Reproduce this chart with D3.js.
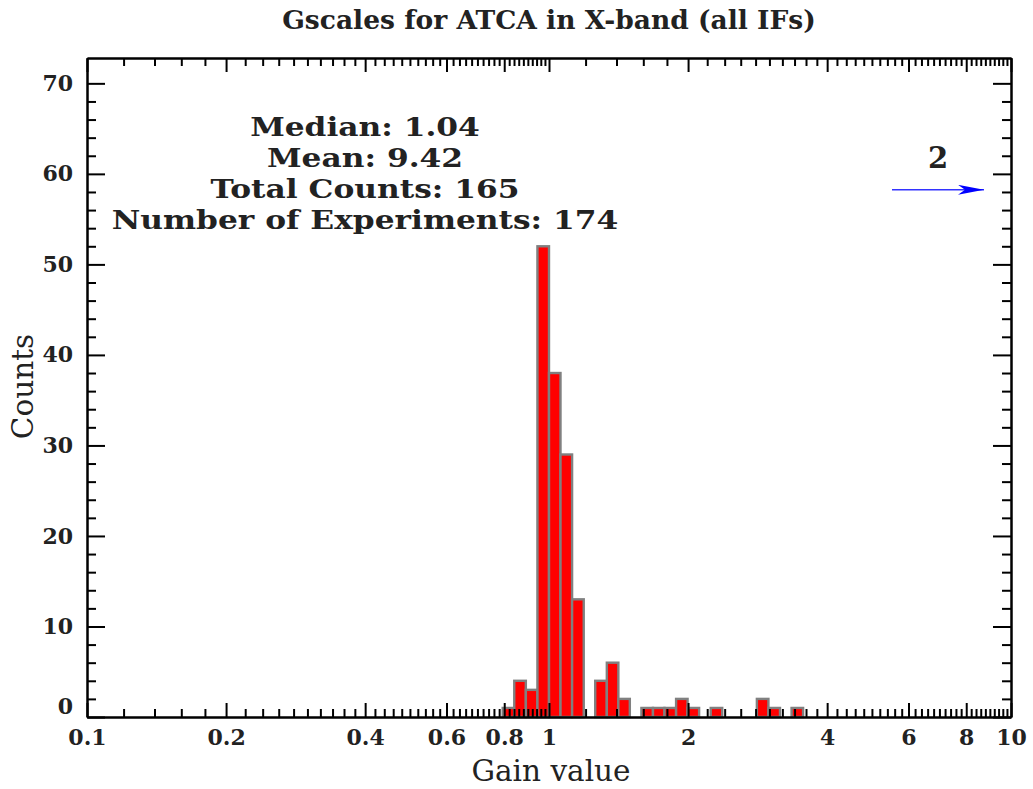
<!DOCTYPE html>
<html>
<head>
<meta charset="utf-8">
<script src="https://cdn.jsdelivr.net/npm/d3@7"></script>
<style>
  body { margin: 0; background: #ffffff; }
  svg { display: block; }
  text { font-family: "DejaVu Serif", "Liberation Serif", serif; fill: #222; }
</style>
</head>
<body>
<svg id="chart" width="1033" height="789"></svg>
<script>
// Histogram bins: edges in gain value (log-spaced) and counts per bin
const binEdges = [0.794, 0.841, 0.891, 0.944, 1.000, 1.059, 1.122, 1.189, 1.259,
                  1.334, 1.413, 1.496, 1.585, 1.679, 1.778, 1.884, 1.995, 2.113,
                  2.239, 2.371, 2.512, 2.661, 2.818, 2.985, 3.162, 3.350, 3.548];
const binCounts = [1, 4, 3, 52, 38, 29, 13, 0, 4, 6, 2, 0, 1, 1, 1, 2, 1, 0,
                   1, 0, 0, 0, 2, 1, 0, 1];
// values beyond the upper end of the gain axis
const overflowCount = 2;

const xMajorTicks = [0.1, 0.2, 0.4, 0.6, 0.8, 1, 2, 4, 6, 8, 10];
const xTickLabels = ["0.1", "0.2", "0.4", "0.6", "0.8", "1", "2", "4", "6", "8", "10"];
const yMajorTicks = [0, 10, 20, 30, 40, 50, 60, 70];
const yTickLabels = ["0", "10", "20", "30", "40", "50", "60", "70"];
const yMax = 72.8;

const titleText = "Gscales for ATCA in X-band (all IFs)";
const xTitle = "Gain value";
const yTitle = "Counts";
const statLines = ["Median: 1.04", "Mean: 9.42", "Total Counts: 165", "Number of Experiments: 174"];

// ---- layout ----
const frame = { left: 87, right: 1011, top: 58, bottom: 717 };
const svg = d3.select("#chart");

const x = d3.scaleLog().domain([0.1, 10]).range([frame.left, frame.right]);
const y = d3.scaleLinear().domain([0, yMax]).range([frame.bottom, frame.top]);

// minor ticks on the log axis: steps of 0.02 per decade unit (0.2 in 1..10)
const xMinorTicks = [];
[0.1, 1].forEach(dec => {
  for (let i = 1; i < 45; i++) {
    const v = +(dec * (1 + 0.2 * i)).toFixed(4);
    if (!xMajorTicks.some(t => Math.abs(t - v) < 1e-6)) xMinorTicks.push(v);
  }
});
const yMinorTicks = d3.range(2, 72, 2).filter(v => v % 10 !== 0);

// ---- bars ----
const bins = binCounts.map((c, i) => ({ x0: binEdges[i], x1: binEdges[i + 1], count: c }))
  .filter(b => b.count > 0);

svg.append("g").attr("class", "bars")
  .selectAll("rect").data(bins).join("rect")
  .attr("x", d => x(d.x0))
  .attr("width", d => x(d.x1) - x(d.x0))
  .attr("y", d => y(d.count))
  .attr("height", d => y(0) - y(d.count))
  .attr("fill", "#ff0000")
  .attr("stroke", "#808080")
  .attr("stroke-width", 2.4);

// ---- axes (ticks pointing inward on all four sides) ----
function styleAxis(g) {
  g.selectAll("path.domain").attr("stroke", "#000").attr("stroke-width", 2);
  g.selectAll(".tick line").attr("stroke", "#000").attr("stroke-width", 2);
  g.selectAll(".tick text")
    .attr("fill", "#222")
    .style("font-family", '"DejaVu Serif", serif')
    .style("font-weight", "bold")
    .style("font-size", "22px");
}

const xMajLen = 14, xMinLen = 8, yMajLen = 18, yMinLen = 9;

svg.append("g").attr("transform", `translate(0,${frame.bottom})`)
  .call(d3.axisBottom(x).tickValues(xMinorTicks).tickSize(-xMinLen).tickSizeOuter(0).tickFormat(""))
  .call(styleAxis);
svg.append("g").attr("transform", `translate(0,${frame.bottom})`)
  .call(d3.axisBottom(x).tickValues(xMajorTicks).tickSize(-xMajLen).tickSizeOuter(0)
    .tickPadding(12).tickFormat((d, i) => xTickLabels[i]))
  .call(styleAxis);

svg.append("g").attr("transform", `translate(0,${frame.top})`)
  .call(d3.axisTop(x).tickValues(xMinorTicks).tickSize(-xMinLen).tickSizeOuter(0).tickFormat(""))
  .call(styleAxis);
svg.append("g").attr("transform", `translate(0,${frame.top})`)
  .call(d3.axisTop(x).tickValues(xMajorTicks).tickSize(-xMajLen).tickSizeOuter(0).tickFormat(""))
  .call(styleAxis);

svg.append("g").attr("transform", `translate(${frame.left},0)`)
  .call(d3.axisLeft(y).tickValues(yMinorTicks).tickSize(-yMinLen).tickSizeOuter(0).tickFormat(""))
  .call(styleAxis);
const yAxisG = svg.append("g").attr("transform", `translate(${frame.left},0)`)
  .call(d3.axisLeft(y).tickValues(yMajorTicks).tickSize(-yMajLen).tickSizeOuter(0)
    .tickPadding(14).tickFormat((d, i) => yTickLabels[i]))
  .call(styleAxis);
// lift the zero label clear of the gain-axis labels
yAxisG.selectAll(".tick text").filter(d => d === 0).attr("y", -11);

svg.append("g").attr("transform", `translate(${frame.right},0)`)
  .call(d3.axisRight(y).tickValues(yMinorTicks).tickSize(-yMinLen).tickSizeOuter(0).tickFormat(""))
  .call(styleAxis);
svg.append("g").attr("transform", `translate(${frame.right},0)`)
  .call(d3.axisRight(y).tickValues(yMajorTicks).tickSize(-yMajLen).tickSizeOuter(0).tickFormat(""))
  .call(styleAxis);

// ---- titles ----
svg.append("text")
  .attr("x", 549).attr("y", 29)
  .attr("text-anchor", "middle")
  .style("font-size", "26.5px").style("font-weight", "bold")
  .text(titleText);

svg.append("text")
  .attr("x", 551).attr("y", 781)
  .attr("text-anchor", "middle")
  .style("font-size", "29.5px")
  .text(xTitle);

svg.append("text")
  .attr("transform", `translate(33,${(frame.top + frame.bottom) / 2 - 1}) rotate(-90)`)
  .attr("text-anchor", "middle")
  .style("font-size", "29.5px")
  .text(yTitle);

// ---- summary statistics (wide, tightly stacked block) ----
const statsG = svg.append("g").attr("class", "stats");
statLines.forEach((line, i) => {
  statsG.append("text")
    .attr("transform", `translate(365,${136 + i * 31}) scale(1.18,1)`)
    .attr("text-anchor", "middle")
    .style("font-size", "26.5px").style("font-weight", "bold")
    .text(line);
});

// ---- overflow marker: count of values beyond the axis, with arrow ----
const defs = svg.append("defs");
defs.append("marker")
  .attr("id", "arrowhead")
  .attr("viewBox", "0 0 26 10")
  .attr("refX", 26).attr("refY", 5)
  .attr("markerWidth", 26).attr("markerHeight", 10)
  .attr("markerUnits", "userSpaceOnUse")
  .attr("orient", "auto")
  .append("path")
  .attr("d", "M0,0 L26,5 L0,10 L7,5 Z")
  .attr("fill", "#0000ff");

const arrowY = y(yMax * 0.8);
svg.append("line")
  .attr("x1", 892).attr("x2", 984)
  .attr("y1", arrowY).attr("y2", arrowY)
  .attr("stroke", "#3333ff").attr("stroke-width", 1.5)
  .attr("marker-end", "url(#arrowhead)");

svg.append("text")
  .attr("x", 938).attr("y", arrowY - 22)
  .attr("text-anchor", "middle")
  .style("font-size", "29px").style("font-weight", "bold")
  .text(String(overflowCount));
</script>
</body>
</html>
